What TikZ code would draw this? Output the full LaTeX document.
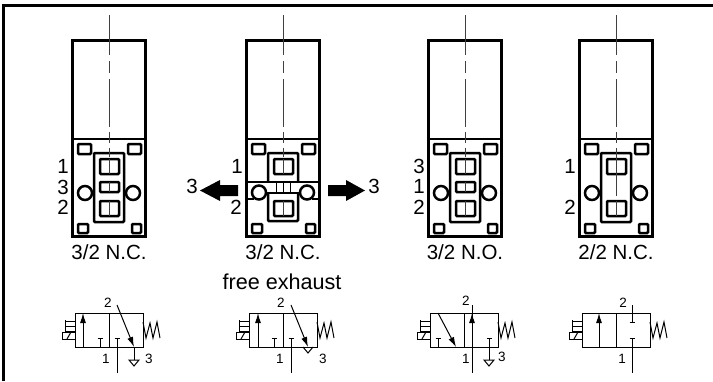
\documentclass[tikz,border=0pt]{standalone}
\usepackage{fontspec}
\setmainfont{Liberation Sans}
\usetikzlibrary{arrows.meta, positioning}

\tikzset{
  wall/.style={line width=3pt, line join=miter},
  inner/.style={line width=2.5pt, rounded corners=1pt},
  hole/.style={line width=2.5pt},
  axis/.style={line width=0.9pt, draw=black!75},
  sym/.style={line width=1pt},
  capt/.style={font=\fontsize{20.5}{22}\selectfont, inner sep=0pt},
  num/.style={font=\fontsize{20.5}{22}\selectfont, inner sep=0pt},
  symnum/.style={font=\fontsize{13.5}{14}\selectfont, inner sep=0pt},
  flow/.style={-{Latex[length=10pt,width=6pt]}, line width=1pt},
  fat/.style={fill=black, draw=none}
}

% body with mounting holes, relative to the axis x
\newcommand{\valvebody}[1]{
  \begin{scope}[xshift=#1pt]
    \draw[wall] (-36.5,40) rectangle (36.5,236);
    \draw[line width=2.4pt] (-36.5,139) -- (36.5,139);
    \draw[axis] (0,15) -- (0,55) (0,61) -- (0,73) (0,79) -- (0,127) (0,132) -- (0,143);
    \draw[inner] (-31,144) rectangle (-18,154);
    \draw[inner] (19,144) rectangle (32,154);
    \draw[inner] (-31,224) rectangle (-21,233);
    \draw[inner] (23,224) rectangle (32,233);
  \end{scope}
}
% valve symbol box, spring and solenoid
\newcommand{\symbox}[1]{
  \draw[sym] (#1,313) rectangle (#1+68,347);
  \draw[sym] (#1+34,313) -- (#1+34,347);
  \draw[sym] (#1+68,322) -- (#1+71,338) -- (#1+75,323) -- (#1+78,338) -- (#1+82,322) -- (#1+85,338);
  \draw[sym] (#1,321) -- (#1-10,321) (#1,326) -- (#1-10,326) (#1,331) -- (#1-10,331) (#1-10,320) -- (#1-10,332);
  \draw[sym] (#1-13,332) rectangle (#1,339);
  \draw[sym] (#1-8,339) -- (#1-4,332);
}
\newcommand{\tport}[3]{
  \draw[sym] (#1,#2) -- (#1,#3) (#1-2.5,#2) -- (#1+2.5,#2);
}
\newcommand{\ground}[1]{
  \draw[sym] (#1,347) -- (#1,360);
  \draw[sym] (#1-5,360) -- (#1+5,360) -- (#1,366) -- cycle;
}

\begin{document}
\begin{tikzpicture}[x=1pt, y=-1pt]
  \useasboundingbox (0,0) rectangle (713,381);
  \draw[line width=3pt] (3.8,381) -- (3.8,5) -- (713,5);

  % first valve
  \valvebody{109}
  \draw[inner] (94,153) rectangle (124,222);
  \draw[inner] (100,159) rectangle (119,174);
  \draw[inner] (100,182) rectangle (119,192);
  \draw[inner] (100,201) rectangle (119,216);
  \draw[hole] (85,193) circle (7);
  \draw[hole] (133,193) circle (7);
  \draw[axis] (109,148) -- (109,157) (109,159) -- (109,174) (109,182) -- (109,192) (109,201) -- (109,216);
  \node[num] (a1) at (63,166) {1};
  \node[num] (a3) at (63,187) {3};
  \node[num] (a2) at (63,207) {2};
  \node[capt] (acapt) at (109,252) {3/2 N.C.};

  % second valve
  \valvebody{283}
  \draw[line width=2.4pt] (247,182) -- (319,182);
  \draw[line width=2.4pt] (247,199) -- (254,199) (312,199) -- (319,199);
  \draw[inner] (268,182) -- (268,153) -- (298,153) -- (298,182);
  \draw[inner] (274,159) rectangle (293,174);
  \draw[line width=1pt] (276,182) -- (276,193) (290,182) -- (290,193) (283,182) -- (283,193);
  \draw[line width=2.4pt] (266,193) -- (300,193);
  \draw[inner] (268,193) -- (268,221) -- (298,221) -- (298,193);
  \draw[inner] (274,201) rectangle (293,216);
  \draw[hole, fill=white] (259,192.5) circle (7);
  \draw[hole, fill=white] (307,192.5) circle (7);
  \draw[axis] (283,148) -- (283,157) (283,159) -- (283,174) (283,201) -- (283,216);
  \fill[fat] (238,185) -- (220,185) -- (220,180) -- (200,190.5) -- (220,201) -- (220,196) -- (238,196) -- cycle;
  \fill[fat] (328,185) -- (346,185) -- (346,180) -- (365,190.5) -- (346,201) -- (346,196) -- (328,196) -- cycle;
  \node[num] (b1) at (237,166) {1};
  \node[num] (b2) at (236,207) {2};
  \node[num] (bl) at (192,186) {3};
  \node[num] (br) at (374,186) {3};
  \node[capt] (bcapt) at (283,252) {3/2 N.C.};
  \node[capt, font=\fontsize{21.6}{22}\selectfont] (bfree) at (282,282) {free exhaust};

  % third valve
  \valvebody{465}
  \draw[inner] (450,153) rectangle (480,222);
  \draw[inner] (456,159) rectangle (475,174);
  \draw[inner] (456,182) rectangle (475,192);
  \draw[inner] (456,201) rectangle (475,216);
  \draw[hole] (441,193) circle (7);
  \draw[hole] (489,193) circle (7);
  \draw[axis] (465,148) -- (465,157) (465,159) -- (465,174) (465,182) -- (465,192) (465,201) -- (465,216);
  \node[num] (c3) at (419,166) {3};
  \node[num] (c1) at (419,186) {1};
  \node[num] (c2) at (419,207) {2};
  \node[capt] (ccapt) at (465,252) {3/2 N.O.};

  % fourth valve
  \valvebody{616}
  \draw[inner] (601,153) rectangle (631,222);
  \draw[inner] (607,159) rectangle (626,174);
  \draw[inner] (607,201) rectangle (626,216);
  \draw[hole] (592,193) circle (7);
  \draw[hole] (640,193) circle (7);
  \draw[axis] (616,148) -- (616,196) (616,201) -- (616,216);
  \node[num] (d1) at (570,166) {1};
  \node[num] (d2) at (570,207) {2};
  \node[capt] (dcapt) at (616,252) {2/2 N.C.};

  % symbols
  \symbox{75}
  \draw[flow] (83,347) -- (83,313);
  \tport{100}{338}{347}
  \tport{117}{338}{373}
  \draw[flow] (117,305) -- (134,347);
  \ground{134}
  \node[symnum] (s1two) at (108,303) {2};
  \node[symnum] (s1one) at (106,359) {1};
  \node[symnum] (s1thr) at (149,359) {3};

  \symbox{249}
  \draw[flow] (258,347) -- (258,313);
  \tport{274}{338}{347}
  \tport{291}{338}{373}
  \draw[flow] (291,305) -- (308,347);
  \draw[sym] (303,347) -- (308,353) -- (313,347);
  \node[symnum] (s2two) at (281,303) {2};
  \node[symnum] (s2one) at (280,359) {1};
  \node[symnum] (s2thr) at (323,359) {3};

  \symbox{430}
  \tport{438}{338}{347}
  \draw[flow] (438,313) -- (456,347);
  \draw[sym] (472,373) -- (472,305);
  \draw[flow] (472,347) -- (472,313);
  \tport{489}{338}{347}
  \ground{489}
  \node[symnum] (s3two) at (466,301) {2};
  \node[symnum] (s3one) at (466,359) {1};
  \node[symnum] (s3thr) at (502,357) {3};

  \symbox{582}
  \draw[flow] (599,347) -- (599,313);
  \draw[sym] (632,305) -- (632,322) (629.5,322) -- (634.5,322);
  \tport{632}{338}{373}
  \node[symnum] (s4two) at (623,303) {2};
  \node[symnum] (s4one) at (622,359) {1};
\end{tikzpicture}
\end{document}
